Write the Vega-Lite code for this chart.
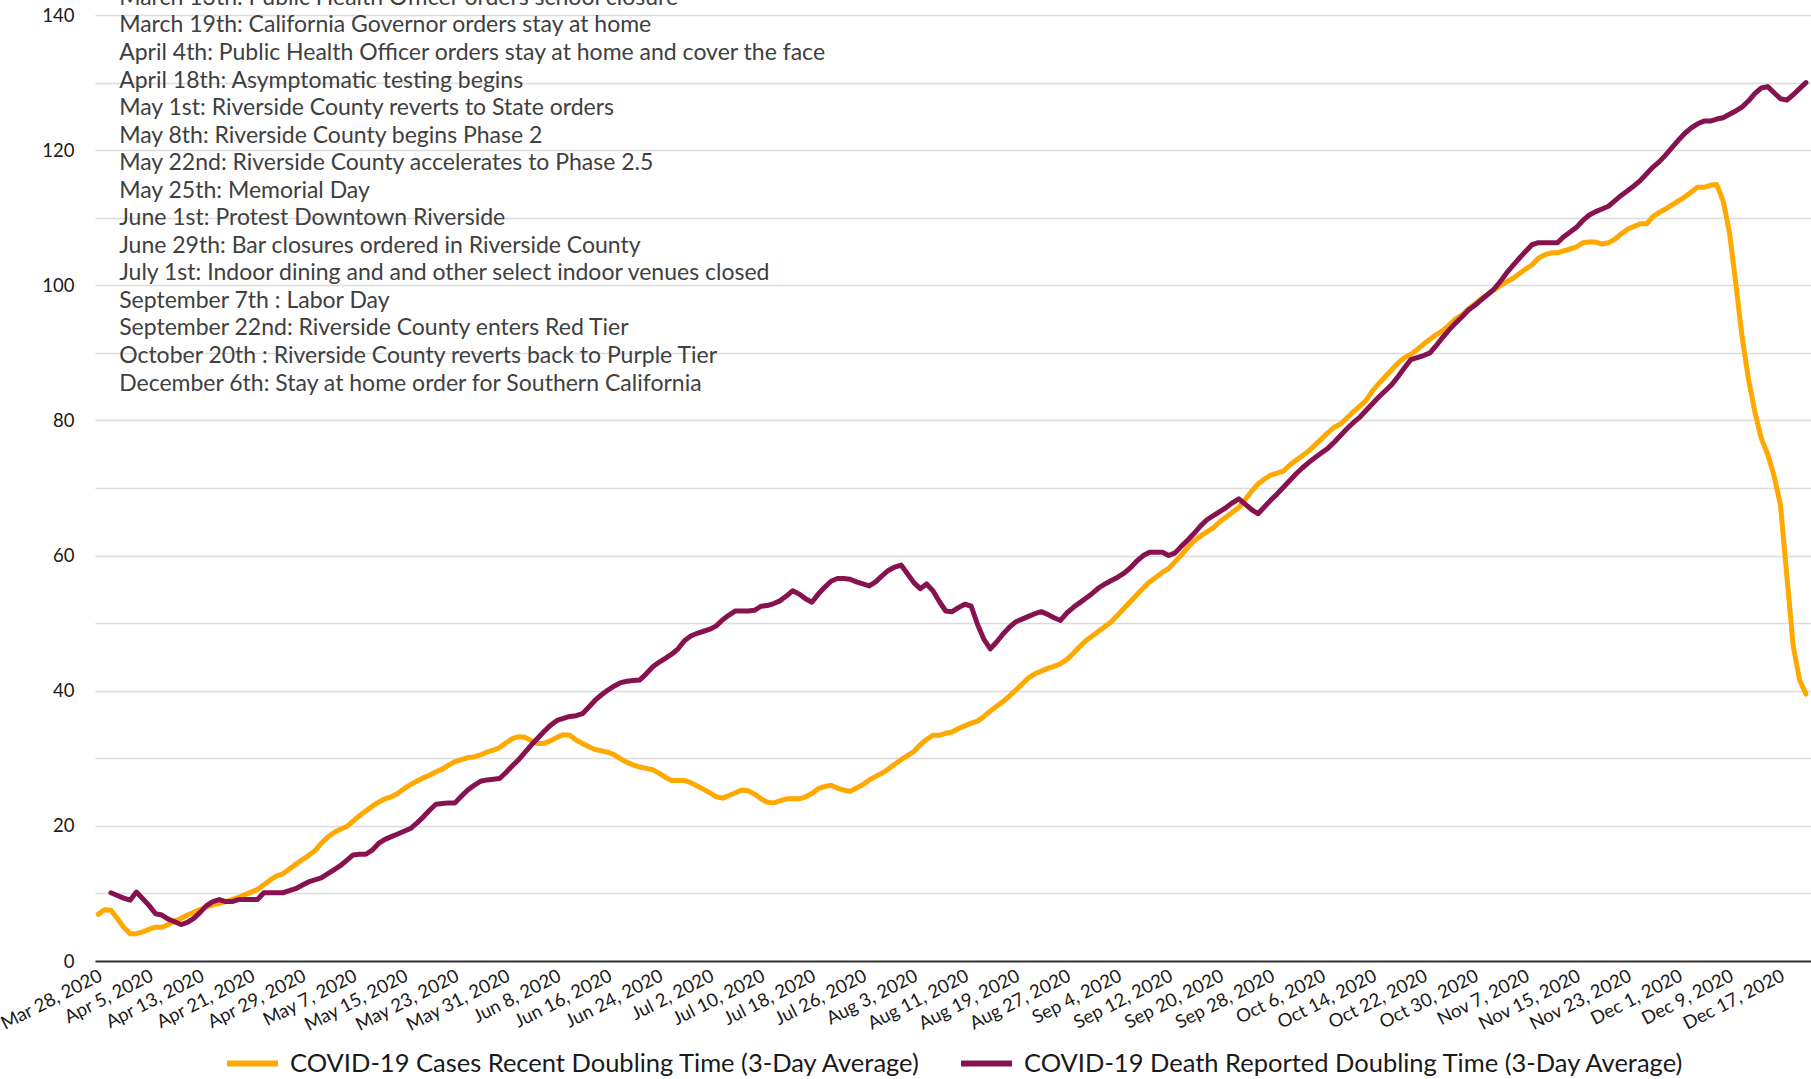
{
"$schema": "https://vega.github.io/schema/vega-lite/v6.json",
"width": 1716, "height": 946,
"autosize": "none",
"padding": {"left": 95, "top": 15, "right": 0, "bottom": 118},
"background": "white",
"config": {"view": {"stroke": null}, "font": "Lato"},
"layer": [
{
"data": {"values": [
{"d":"2020-03-28","c":6.9},{"d":"2020-03-29","c":7.6},{"d":"2020-03-30","c":7.5,"m":10.1},{"d":"2020-03-31","c":6.3,"m":9.7},
{"d":"2020-04-01","c":5.0,"m":9.3},{"d":"2020-04-02","c":4.05,"m":9.0},{"d":"2020-04-03","c":4.05,"m":10.2},{"d":"2020-04-04","c":4.3,"m":9.2},{"d":"2020-04-05","c":4.7,"m":8.2},{"d":"2020-04-06","c":5.0,"m":7.0},{"d":"2020-04-07","c":5.0,"m":6.8},{"d":"2020-04-08","c":5.4,"m":6.2},{"d":"2020-04-09","c":5.9,"m":5.8},{"d":"2020-04-10","c":6.3,"m":5.4},{"d":"2020-04-11","c":6.8,"m":5.7},{"d":"2020-04-12","c":7.2,"m":6.3},{"d":"2020-04-13","c":7.6,"m":7.2},{"d":"2020-04-14","c":8.0,"m":8.2},{"d":"2020-04-15","c":8.3,"m":8.8},{"d":"2020-04-16","c":8.5,"m":9.1},{"d":"2020-04-17","c":8.8,"m":8.8},{"d":"2020-04-18","c":9.1,"m":8.8},{"d":"2020-04-19","c":9.4,"m":9.1},{"d":"2020-04-20","c":9.8,"m":9.1},{"d":"2020-04-21","c":10.2,"m":9.1},{"d":"2020-04-22","c":10.6,"m":9.1},{"d":"2020-04-23","c":11.3,"m":10.1},{"d":"2020-04-24","c":12.0,"m":10.1},{"d":"2020-04-25","c":12.6,"m":10.1},{"d":"2020-04-26","c":12.9,"m":10.1},{"d":"2020-04-27","c":13.6,"m":10.4},{"d":"2020-04-28","c":14.3,"m":10.7},{"d":"2020-04-29","c":15.0,"m":11.2},{"d":"2020-04-30","c":15.6,"m":11.7},
{"d":"2020-05-01","c":16.3,"m":12.0},{"d":"2020-05-02","c":17.4,"m":12.3},{"d":"2020-05-03","c":18.3,"m":12.9},{"d":"2020-05-04","c":19.0,"m":13.5},{"d":"2020-05-05","c":19.5,"m":14.1},{"d":"2020-05-06","c":19.9,"m":14.9},{"d":"2020-05-07","c":20.7,"m":15.7},{"d":"2020-05-08","c":21.5,"m":15.8},{"d":"2020-05-09","c":22.2,"m":15.8},{"d":"2020-05-10","c":22.9,"m":16.4},{"d":"2020-05-11","c":23.5,"m":17.4},{"d":"2020-05-12","c":24.0,"m":18.0},{"d":"2020-05-13","c":24.3,"m":18.4},{"d":"2020-05-14","c":24.8,"m":18.8},{"d":"2020-05-15","c":25.5,"m":19.2},{"d":"2020-05-16","c":26.1,"m":19.6},{"d":"2020-05-17","c":26.6,"m":20.4},{"d":"2020-05-18","c":27.1,"m":21.3},{"d":"2020-05-19","c":27.5,"m":22.3},{"d":"2020-05-20","c":28.0,"m":23.2},{"d":"2020-05-21","c":28.4,"m":23.3},{"d":"2020-05-22","c":29.0,"m":23.4},{"d":"2020-05-23","c":29.5,"m":23.4},{"d":"2020-05-24","c":29.8,"m":24.4},{"d":"2020-05-25","c":30.1,"m":25.3},{"d":"2020-05-26","c":30.2,"m":26.0},{"d":"2020-05-27","c":30.5,"m":26.6},{"d":"2020-05-28","c":30.9,"m":26.8},{"d":"2020-05-29","c":31.2,"m":26.9},{"d":"2020-05-30","c":31.6,"m":27.0},{"d":"2020-05-31","c":32.3,"m":27.9},
{"d":"2020-06-01","c":32.9,"m":28.9},{"d":"2020-06-02","c":33.2,"m":29.8},{"d":"2020-06-03","c":33.1,"m":30.9},{"d":"2020-06-04","c":32.6,"m":32.0},{"d":"2020-06-05","c":32.2,"m":33.0},{"d":"2020-06-06","c":32.2,"m":34.0},{"d":"2020-06-07","c":32.6,"m":34.9},{"d":"2020-06-08","c":33.1,"m":35.6},{"d":"2020-06-09","c":33.5,"m":35.9},{"d":"2020-06-10","c":33.4,"m":36.2},{"d":"2020-06-11","c":32.7,"m":36.3},{"d":"2020-06-12","c":32.2,"m":36.6},{"d":"2020-06-13","c":31.7,"m":37.6},{"d":"2020-06-14","c":31.3,"m":38.6},{"d":"2020-06-15","c":31.1,"m":39.4},{"d":"2020-06-16","c":30.9,"m":40.1},{"d":"2020-06-17","c":30.5,"m":40.7},{"d":"2020-06-18","c":29.9,"m":41.2},{"d":"2020-06-19","c":29.4,"m":41.4},{"d":"2020-06-20","c":29.0,"m":41.5},{"d":"2020-06-21","c":28.7,"m":41.6},{"d":"2020-06-22","c":28.5,"m":42.5},{"d":"2020-06-23","c":28.3,"m":43.5},{"d":"2020-06-24","c":27.8,"m":44.2},{"d":"2020-06-25","c":27.2,"m":44.8},{"d":"2020-06-26","c":26.7,"m":45.4},{"d":"2020-06-27","c":26.7,"m":46.2},{"d":"2020-06-28","c":26.7,"m":47.4},{"d":"2020-06-29","c":26.4,"m":48.1},{"d":"2020-06-30","c":25.9,"m":48.5},
{"d":"2020-07-01","c":25.4,"m":48.8},{"d":"2020-07-02","c":24.9,"m":49.1},{"d":"2020-07-03","c":24.3,"m":49.6},{"d":"2020-07-04","c":24.1,"m":50.5},{"d":"2020-07-05","c":24.5,"m":51.2},{"d":"2020-07-06","c":24.9,"m":51.8},{"d":"2020-07-07","c":25.3,"m":51.8},{"d":"2020-07-08","c":25.2,"m":51.8},{"d":"2020-07-09","c":24.7,"m":51.9},{"d":"2020-07-10","c":24.0,"m":52.5},{"d":"2020-07-11","c":23.5,"m":52.6},{"d":"2020-07-12","c":23.4,"m":52.9},{"d":"2020-07-13","c":23.7,"m":53.3},{"d":"2020-07-14","c":24.0,"m":54.0},{"d":"2020-07-15","c":24.0,"m":54.8},{"d":"2020-07-16","c":24.0,"m":54.3},{"d":"2020-07-17","c":24.3,"m":53.6},{"d":"2020-07-18","c":24.8,"m":53.1},{"d":"2020-07-19","c":25.5,"m":54.3},{"d":"2020-07-20","c":25.8,"m":55.3},{"d":"2020-07-21","c":26.0,"m":56.2},{"d":"2020-07-22","c":25.6,"m":56.6},{"d":"2020-07-23","c":25.3,"m":56.6},{"d":"2020-07-24","c":25.1,"m":56.5},{"d":"2020-07-25","c":25.6,"m":56.1},{"d":"2020-07-26","c":26.1,"m":55.8},{"d":"2020-07-27","c":26.8,"m":55.5},{"d":"2020-07-28","c":27.3,"m":56.1},{"d":"2020-07-29","c":27.8,"m":57.0},{"d":"2020-07-30","c":28.4,"m":57.8},{"d":"2020-07-31","c":29.1,"m":58.3},
{"d":"2020-08-01","c":29.8,"m":58.6},{"d":"2020-08-02","c":30.4,"m":57.3},{"d":"2020-08-03","c":31.0,"m":56.0},{"d":"2020-08-04","c":32.0,"m":55.1},{"d":"2020-08-05","c":32.8,"m":55.8},{"d":"2020-08-06","c":33.4,"m":54.8},{"d":"2020-08-07","c":33.4,"m":53.2},{"d":"2020-08-08","c":33.7,"m":51.8},{"d":"2020-08-09","c":33.9,"m":51.7},{"d":"2020-08-10","c":34.4,"m":52.3},{"d":"2020-08-11","c":34.8,"m":52.8},{"d":"2020-08-12","c":35.2,"m":52.5},{"d":"2020-08-13","c":35.5,"m":49.8},{"d":"2020-08-14","c":36.2,"m":47.6},{"d":"2020-08-15","c":37.0,"m":46.2},{"d":"2020-08-16","c":37.7,"m":47.2},{"d":"2020-08-17","c":38.4,"m":48.4},{"d":"2020-08-18","c":39.2,"m":49.4},{"d":"2020-08-19","c":40.1,"m":50.2},{"d":"2020-08-20","c":41.0,"m":50.6},{"d":"2020-08-21","c":41.9,"m":51.0},{"d":"2020-08-22","c":42.5,"m":51.4},{"d":"2020-08-23","c":42.9,"m":51.7},{"d":"2020-08-24","c":43.3,"m":51.3},{"d":"2020-08-25","c":43.6,"m":50.8},{"d":"2020-08-26","c":44.0,"m":50.4},{"d":"2020-08-27","c":44.6,"m":51.5},{"d":"2020-08-28","c":45.5,"m":52.3},{"d":"2020-08-29","c":46.5,"m":53.0},{"d":"2020-08-30","c":47.4,"m":53.7},{"d":"2020-08-31","c":48.1,"m":54.4},
{"d":"2020-09-01","c":48.8,"m":55.2},{"d":"2020-09-02","c":49.5,"m":55.8},{"d":"2020-09-03","c":50.2,"m":56.3},{"d":"2020-09-04","c":51.2,"m":56.8},{"d":"2020-09-05","c":52.2,"m":57.4},{"d":"2020-09-06","c":53.2,"m":58.2},{"d":"2020-09-07","c":54.2,"m":59.2},{"d":"2020-09-08","c":55.2,"m":60.0},{"d":"2020-09-09","c":56.1,"m":60.5},{"d":"2020-09-10","c":56.8,"m":60.5},{"d":"2020-09-11","c":57.5,"m":60.5},{"d":"2020-09-12","c":58.1,"m":60.0},{"d":"2020-09-13","c":59.1,"m":60.4},{"d":"2020-09-14","c":60.1,"m":61.4},{"d":"2020-09-15","c":61.2,"m":62.3},{"d":"2020-09-16","c":62.2,"m":63.3},{"d":"2020-09-17","c":62.9,"m":64.4},{"d":"2020-09-18","c":63.5,"m":65.3},{"d":"2020-09-19","c":64.1,"m":65.9},{"d":"2020-09-20","c":65.0,"m":66.5},{"d":"2020-09-21","c":65.7,"m":67.1},{"d":"2020-09-22","c":66.4,"m":67.8},{"d":"2020-09-23","c":67.1,"m":68.4},{"d":"2020-09-24","c":68.3,"m":67.6},{"d":"2020-09-25","c":69.5,"m":66.8},{"d":"2020-09-26","c":70.6,"m":66.2},{"d":"2020-09-27","c":71.3,"m":67.2},{"d":"2020-09-28","c":71.9,"m":68.2},{"d":"2020-09-29","c":72.2,"m":69.1},{"d":"2020-09-30","c":72.5,"m":70.1},
{"d":"2020-10-01","c":73.4,"m":71.1},{"d":"2020-10-02","c":74.1,"m":72.1},{"d":"2020-10-03","c":74.8,"m":73.0},{"d":"2020-10-04","c":75.5,"m":73.8},{"d":"2020-10-05","c":76.4,"m":74.5},{"d":"2020-10-06","c":77.3,"m":75.2},{"d":"2020-10-07","c":78.2,"m":75.9},{"d":"2020-10-08","c":79.0,"m":76.8},{"d":"2020-10-09","c":79.5,"m":77.8},{"d":"2020-10-10","c":80.4,"m":78.8},{"d":"2020-10-11","c":81.3,"m":79.7},{"d":"2020-10-12","c":82.1,"m":80.5},{"d":"2020-10-13","c":83.0,"m":81.5},{"d":"2020-10-14","c":84.4,"m":82.5},{"d":"2020-10-15","c":85.5,"m":83.5},{"d":"2020-10-16","c":86.5,"m":84.4},{"d":"2020-10-17","c":87.5,"m":85.3},{"d":"2020-10-18","c":88.5,"m":86.5},{"d":"2020-10-19","c":89.3,"m":87.8},{"d":"2020-10-20","c":89.8,"m":89.0},{"d":"2020-10-21","c":90.5,"m":89.3},{"d":"2020-10-22","c":91.3,"m":89.6},{"d":"2020-10-23","c":92.0,"m":90.0},{"d":"2020-10-24","c":92.7,"m":91.1},{"d":"2020-10-25","c":93.3,"m":92.3},{"d":"2020-10-26","c":94.1,"m":93.4},{"d":"2020-10-27","c":95.0,"m":94.4},{"d":"2020-10-28","c":95.6,"m":95.3},{"d":"2020-10-29","c":96.5,"m":96.3},{"d":"2020-10-30","c":97.2,"m":97.0},{"d":"2020-10-31","c":98.0,"m":97.8},
{"d":"2020-11-01","c":98.6,"m":98.6},{"d":"2020-11-02","c":99.3,"m":99.4},{"d":"2020-11-03","c":99.9,"m":100.5},{"d":"2020-11-04","c":100.5,"m":101.8},{"d":"2020-11-05","c":101.0,"m":102.9},{"d":"2020-11-06","c":101.7,"m":104.0},{"d":"2020-11-07","c":102.4,"m":105.0},{"d":"2020-11-08","c":103.0,"m":106.0},{"d":"2020-11-09","c":104.0,"m":106.3},{"d":"2020-11-10","c":104.5,"m":106.3},{"d":"2020-11-11","c":104.8,"m":106.3},{"d":"2020-11-12","c":104.8,"m":106.3},{"d":"2020-11-13","c":105.1,"m":107.2},{"d":"2020-11-14","c":105.4,"m":107.9},{"d":"2020-11-15","c":105.7,"m":108.6},{"d":"2020-11-16","c":106.3,"m":109.6},{"d":"2020-11-17","c":106.4,"m":110.4},{"d":"2020-11-18","c":106.4,"m":110.9},{"d":"2020-11-19","c":106.1,"m":111.3},{"d":"2020-11-20","c":106.3,"m":111.7},{"d":"2020-11-21","c":106.8,"m":112.5},{"d":"2020-11-22","c":107.6,"m":113.3},{"d":"2020-11-23","c":108.3,"m":114.0},{"d":"2020-11-24","c":108.7,"m":114.7},{"d":"2020-11-25","c":109.1,"m":115.5},{"d":"2020-11-26","c":109.1,"m":116.5},{"d":"2020-11-27","c":110.2,"m":117.5},{"d":"2020-11-28","c":110.8,"m":118.3},{"d":"2020-11-29","c":111.3,"m":119.3},{"d":"2020-11-30","c":111.9,"m":120.4},
{"d":"2020-12-01","c":112.5,"m":121.5},{"d":"2020-12-02","c":113.1,"m":122.5},{"d":"2020-12-03","c":113.8,"m":123.3},{"d":"2020-12-04","c":114.5,"m":123.9},{"d":"2020-12-05","c":114.5,"m":124.3},{"d":"2020-12-06","c":114.8,"m":124.3},{"d":"2020-12-07","c":114.9,"m":124.6},{"d":"2020-12-08","c":112.5,"m":124.8},{"d":"2020-12-09","c":107.8,"m":125.3},{"d":"2020-12-10","c":100.2,"m":125.8},{"d":"2020-12-11","c":92.2,"m":126.4},{"d":"2020-12-12","c":86.0,"m":127.3},{"d":"2020-12-13","c":81.2,"m":128.4},{"d":"2020-12-14","c":77.3,"m":129.2},{"d":"2020-12-15","c":75.0,"m":129.4},{"d":"2020-12-16","c":71.8,"m":128.5},{"d":"2020-12-17","c":67.5,"m":127.6},{"d":"2020-12-18","c":57.0,"m":127.4},{"d":"2020-12-19","c":46.6,"m":128.2},{"d":"2020-12-20","c":41.6,"m":129.1},{"d":"2020-12-21","c":39.5,"m":130.0}
]},
"transform": [{"fold": ["c", "m"], "as": ["s", "v"]}],
"mark": {"type": "line", "strokeWidth": 5, "strokeJoin": "round", "strokeCap": "round"},
"encoding": {
"x": {"field": "d", "type": "temporal",
"scale": {"type": "utc", "domain": [{"year": 2020, "month": 3, "date": 27, "hours": 12, "utc": true}, {"year": 2020, "month": 12, "date": 21, "hours": 19, "utc": true}]},
"axis": {"title": null,
"labelExpr": "utcFormat(datum.value, '%b %-d, %Y')",
"values": [
{"year":2020,"month":3,"date":28,"utc":true},{"year":2020,"month":4,"date":5,"utc":true},{"year":2020,"month":4,"date":13,"utc":true},{"year":2020,"month":4,"date":21,"utc":true},{"year":2020,"month":4,"date":29,"utc":true},{"year":2020,"month":5,"date":7,"utc":true},{"year":2020,"month":5,"date":15,"utc":true},{"year":2020,"month":5,"date":23,"utc":true},{"year":2020,"month":5,"date":31,"utc":true},{"year":2020,"month":6,"date":8,"utc":true},{"year":2020,"month":6,"date":16,"utc":true},{"year":2020,"month":6,"date":24,"utc":true},{"year":2020,"month":7,"date":2,"utc":true},{"year":2020,"month":7,"date":10,"utc":true},{"year":2020,"month":7,"date":18,"utc":true},{"year":2020,"month":7,"date":26,"utc":true},{"year":2020,"month":8,"date":3,"utc":true},{"year":2020,"month":8,"date":11,"utc":true},{"year":2020,"month":8,"date":19,"utc":true},{"year":2020,"month":8,"date":27,"utc":true},{"year":2020,"month":9,"date":4,"utc":true},{"year":2020,"month":9,"date":12,"utc":true},{"year":2020,"month":9,"date":20,"utc":true},{"year":2020,"month":9,"date":28,"utc":true},{"year":2020,"month":10,"date":6,"utc":true},{"year":2020,"month":10,"date":14,"utc":true},{"year":2020,"month":10,"date":22,"utc":true},{"year":2020,"month":10,"date":30,"utc":true},{"year":2020,"month":11,"date":7,"utc":true},{"year":2020,"month":11,"date":15,"utc":true},{"year":2020,"month":11,"date":23,"utc":true},{"year":2020,"month":12,"date":1,"utc":true},{"year":2020,"month":12,"date":9,"utc":true},{"year":2020,"month":12,"date":17,"utc":true}],
"labelAngle": -27, "labelAlign": "right", "labelBaseline": "top", "labelFontSize": 18.5, "labelColor": "#1a1a1a", "labelFont": "Lato",
"labelPadding": 5, "labelOffset": -2, "labelFlush": false, "labelOverlap": false, "labelBound": false,
"ticks": false, "grid": false, "domainColor": "#333333", "domainWidth": 2}},
"y": {"field": "v", "type": "quantitative",
"scale": {"domain": [0, 140], "nice": false},
"axis": {"title": null, "values": [0,10,20,30,40,50,60,70,80,90,100,110,120,130,140],
"labelExpr": "datum.value % 20 == 0 ? datum.label : ''",
"grid": true, "gridColor": "#dcdcdc", "gridWidth": 1.5, "domain": false, "ticks": false,
"labelFontSize": 18.5, "labelColor": "#1a1a1a", "labelFont": "Lato", "labelPadding": 21}},
"color": {"field": "s", "type": "nominal",
"scale": {"domain": ["c", "m"], "range": ["#FFA800", "#86124F"]},
"legend": {"orient": "none", "legendX": 129, "legendY": 1020, "direction": "horizontal", "title": null,
"labelExpr": "datum.value == 'c' ? 'COVID-19 Cases Recent Doubling Time (3-Day Average)' : 'COVID-19 Death Reported Doubling Time (3-Day Average)'",
"symbolType": "stroke", "symbolStrokeWidth": 6, "symbolSize": 2600, "symbolOpacity": 1,
"labelFontSize": 25.5, "labelColor": "#1a1a1a", "labelFont": "Lato", "labelOffset": 9, "labelLimit": 1000,
"columnPadding": 27}}
}
},
{
"data": {"values": [
{"n": 0, "t": "March 13th: Public Health Officer orders school closure"},
{"n": 1, "t": "March 19th: California Governor orders stay at home"},
{"n": 2, "t": "April 4th: Public Health Officer orders stay at home and cover the face"},
{"n": 3, "t": "April 18th: Asymptomatic testing begins"},
{"n": 4, "t": "May 1st: Riverside County reverts to State orders"},
{"n": 5, "t": "May 8th: Riverside County begins Phase 2"},
{"n": 6, "t": "May 22nd: Riverside County accelerates to Phase 2.5"},
{"n": 7, "t": "May 25th: Memorial Day"},
{"n": 8, "t": "June 1st: Protest Downtown Riverside"},
{"n": 9, "t": "June 29th: Bar closures ordered in Riverside County"},
{"n": 10, "t": "July 1st: Indoor dining and and other select indoor venues closed"},
{"n": 11, "t": "September 7th : Labor Day"},
{"n": 12, "t": "September 22nd: Riverside County enters Red Tier"},
{"n": 13, "t": "October 20th : Riverside County reverts back to Purple Tier"},
{"n": 14, "t": "December 6th: Stay at home order for Southern California"}
]},
"mark": {"type": "text", "align": "left", "baseline": "middle", "fontSize": 23, "color": "#404040", "font": "Lato"},
"encoding": {
"x": {"datum": {"year": 2020, "month": 3, "date": 31, "hours": 7, "utc": true}, "type": "temporal"},
"y": {"field": "n", "type": "quantitative", "scale": {"domain": [0.6225, 34.96], "reverse": true, "nice": false, "zero": false}, "axis": null},
"text": {"field": "t"}
}
}
],
"resolve": {"scale": {"y": "independent"}}
}
